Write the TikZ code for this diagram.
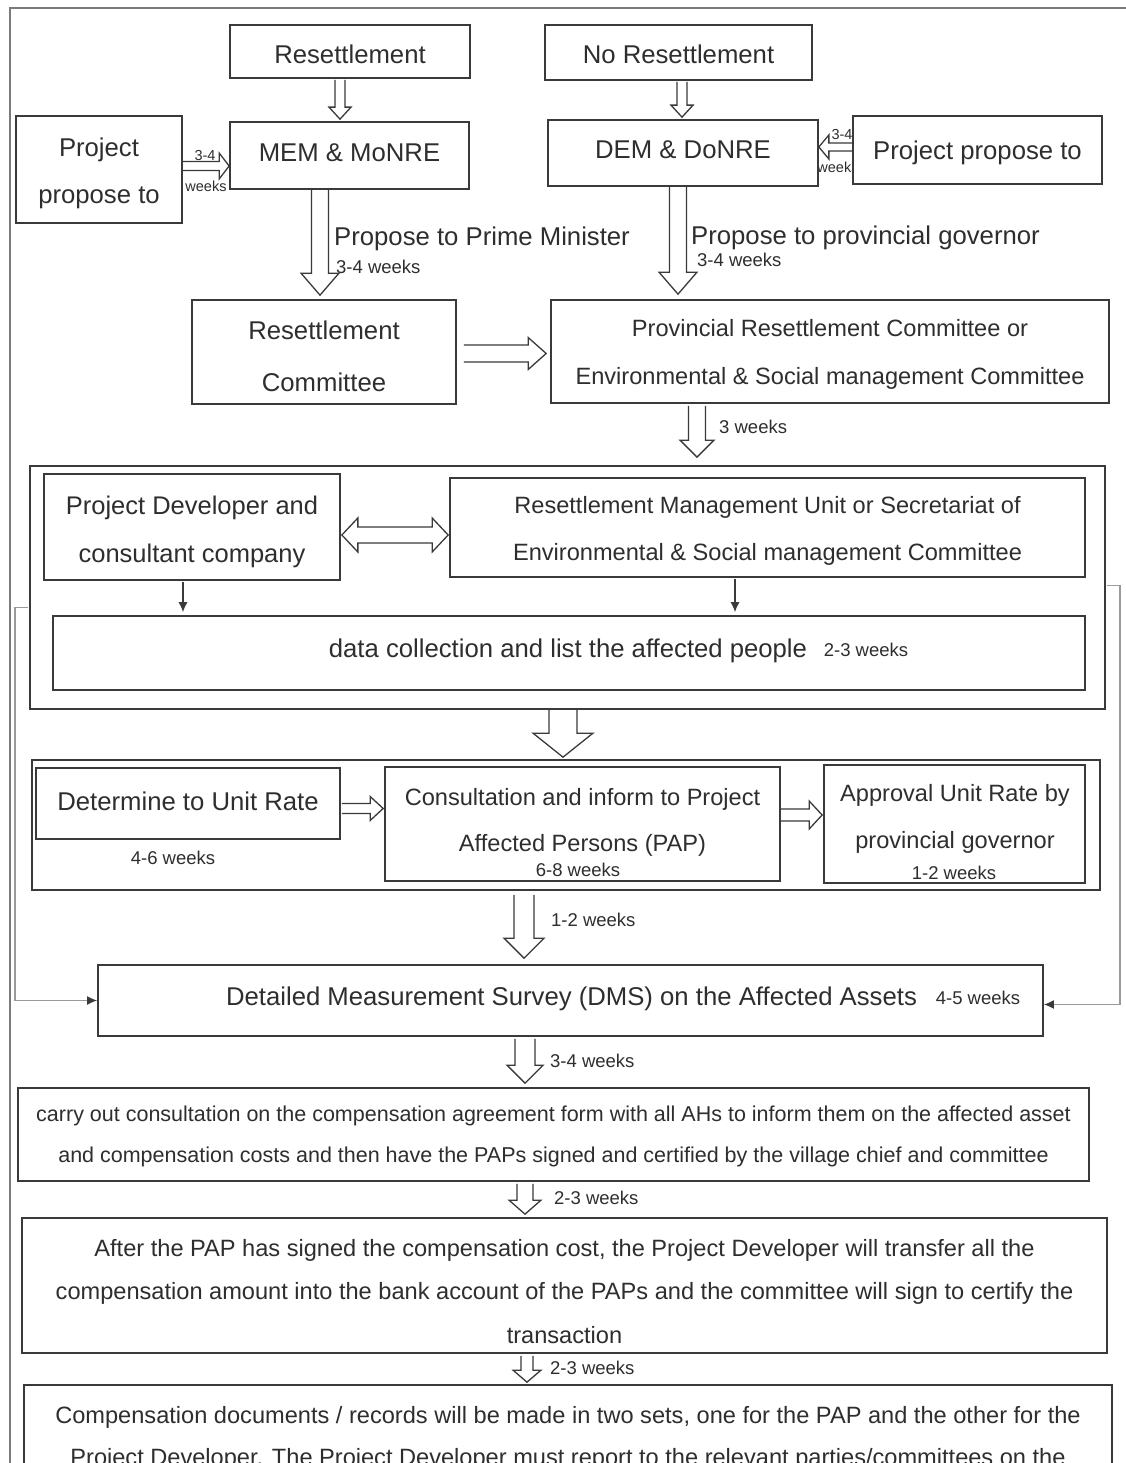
\documentclass[tikz,border=0pt]{standalone}
\usepackage{fontspec}
\setmainfont{Liberation Sans}
\usetikzlibrary{calc,arrows.meta}
\definecolor{lc}{HTML}{3A3A3A}
\definecolor{tc}{HTML}{2E2E2E}
\definecolor{fbc}{HTML}{9A9A9A}
\newcommand\fbig{\fontsize{25.7}{30}\selectfont}
\newcommand\fmid{\fontsize{23.6}{28}\selectfont}
\newcommand\fsml{\fontsize{21.5}{26}\selectfont}
\newcommand\fwk{\fontsize{18.5}{20}\selectfont}
\newcommand\ftiny{\fontsize{14.5}{16}\selectfont}
\newcommand\vblk[5]{\draw[blk] let \p1=(#1), \p2=(#2) in (\x1-#3pt,\y1) -- (\x1-#3pt,\y2+#5pt) -- (\x1-#4pt,\y2+#5pt) -- (\x1,\y2) -- (\x1+#4pt,\y2+#5pt) -- (\x1+#3pt,\y2+#5pt) -- (\x1+#3pt,\y1);}
\newcommand\hblkR[5]{\draw[blk] let \p1=(#1), \p2=(#2) in (\x1,\y1+#3pt) -- (\x2-#5pt,\y1+#3pt) -- (\x2-#5pt,\y1+#4pt) -- (\x2,\y1) -- (\x2-#5pt,\y1-#4pt) -- (\x2-#5pt,\y1-#3pt) -- (\x1,\y1-#3pt);}
\newcommand\hblkL[5]{\draw[blk] let \p1=(#1), \p2=(#2) in (\x1,\y1+#3pt) -- (\x2+#5pt,\y1+#3pt) -- (\x2+#5pt,\y1+#4pt) -- (\x2,\y1) -- (\x2+#5pt,\y1-#4pt) -- (\x2+#5pt,\y1-#3pt) -- (\x1,\y1-#3pt);}
\newcommand\hblkD[5]{\draw[blk] let \p1=(#1), \p2=(#2) in (\x1,\y1) -- (\x1+#5pt,\y1+#4pt) -- (\x1+#5pt,\y1+#3pt) -- (\x2-#5pt,\y1+#3pt) -- (\x2-#5pt,\y1+#4pt) -- (\x2,\y1) -- (\x2-#5pt,\y1-#4pt) -- (\x2-#5pt,\y1-#3pt) -- (\x1+#5pt,\y1-#3pt) -- (\x1+#5pt,\y1-#4pt) -- cycle;}
\begin{document}
\begin{tikzpicture}[x=1pt,y=-1pt,
  box/.style={draw=lc, line width=1.7pt, fill=white, inner sep=0pt},
  grp/.style={draw=lc, line width=1.7pt, inner sep=0pt},
  blk/.style={draw=lc, line width=1.3pt, line join=miter},
  lbl/.style={text=tc, inner sep=0pt, text depth=0pt, font=\fbig},
  mid/.style={lbl, font=\fmid},
  sml/.style={lbl, font=\fsml},
  wk/.style={lbl, font=\fwk},
  tiny/.style={lbl, font=\ftiny},
  thin/.style={draw=lc, line width=1.2pt, -{Latex[length=10pt,width=9pt]}},
  fb/.style={draw=fbc, line width=1.5pt},
  fbtip/.style={-{Latex[length=10pt,width=9pt,color=lc]}}]
\useasboundingbox (0,0) rectangle (1126,1463);
\clip (0,0) rectangle (1126,1463);
\fill[white] (0,0) rectangle (1126,1463);
\draw[draw=fbc!80!black, line width=2pt] (10,1470) -- (10,8) -- (1130,8);

% top row
\node[box, minimum width=240, minimum height=53] (res) at (350,51.5) {};
\node[lbl] (rest) at (350,54) {Resettlement};
\node[box, minimum width=267, minimum height=55] (nores) at (678.5,52.5) {};
\node[lbl] (norest) at (678.5,54) {No Resettlement};
\node[tiny] (l34a) at (205,155) {3-4};
\node[tiny] (lwka) at (206,186) {weeks};
\node[tiny] (l34b) at (842,134) {3-4};
\node[tiny] (lwkb) at (838,167) {weeks};
\node[box, minimum width=166, minimum height=107] (ppl) at (99,169.5) {};
\node[lbl] (pplt1) at (99,147) {Project};
\node[lbl] (pplt2) at (99,195) {propose to};
\node[box, minimum width=239, minimum height=67] (mem) at (349.5,155.5) {};
\node[lbl] (memt) at (349.5,153) {MEM \& MoNRE};
\node[box, minimum width=270, minimum height=66] (dem) at (683,153) {};
\node[lbl] (demt) at (683,150) {DEM \& DoNRE};
\node[box, minimum width=249, minimum height=68] (ppr) at (977.5,150) {};
\node[lbl] (pprt) at (977.5,150) {Project propose to};

% committees
\node[box, minimum width=264, minimum height=104] (rc) at (324,352) {};
\node[lbl] (rct1) at (324,330) {Resettlement};
\node[lbl] (rct2) at (324,382) {Committee};
\node[box, minimum width=558, minimum height=103] (prc) at (830,351.5) {};
\node[mid] (prct1) at (830,328) {Provincial Resettlement Committee or};
\node[mid] (prct2) at (830,376) {Environmental \& Social management Committee};
\node[lbl, anchor=west] (ppm) at (334,236) {Propose to Prime Minister};
\node[wk, anchor=west] (w1) at (336,267) {3-4 weeks};
\node[lbl, anchor=west] (ppg) at (691,235) {Propose to provincial governor};
\node[wk, anchor=west] (w2) at (697,260) {3-4 weeks};
\node[wk, anchor=west] (w3) at (719,427) {3 weeks};

% group 1
\node[grp, minimum width=1075, minimum height=243] (g1) at (567.5,587.5) {};
\node[box, minimum width=296, minimum height=106] (pd) at (192,527) {};
\node[lbl, font=\fontsize{25.5}{30}\selectfont] (pdt1) at (192,505) {Project Developer and};
\node[lbl, font=\fontsize{25.5}{30}\selectfont] (pdt2) at (192,553) {consultant company};
\node[box, minimum width=635, minimum height=99] (rmu) at (767.5,527.5) {};
\node[mid] (rmut1) at (767.5,505) {Resettlement Management Unit or Secretariat of};
\node[mid] (rmut2) at (767.5,552) {Environmental \& Social management Committee};
\node[box, minimum width=1032, minimum height=74] (dc) at (569,653) {};
\node[lbl] (dct) at (568,648) {data collection and list the affected people};
\node[wk] (w4) at (866,650) {2-3 weeks};

% group 2
\node[grp, minimum width=1068, minimum height=130] (g2) at (566,825) {};
\node[box, minimum width=304, minimum height=71] (dur) at (188,803.5) {};
\node[lbl] (durt) at (188,801) {Determine to Unit Rate};
\node[wk] (w5) at (173,858) {4-6 weeks};
\node[box, minimum width=395, minimum height=114] (con) at (582.5,824) {};
\node[mid] (cont1) at (582.5,797) {Consultation and inform to Project};
\node[mid] (cont2) at (582.5,843) {Affected Persons (PAP)};
\node[wk] (w6) at (578,870) {6-8 weeks};
\node[box, minimum width=261, minimum height=118] (app) at (954.5,824) {};
\node[mid] (appt1) at (955,793) {Approval Unit Rate by};
\node[mid] (appt2) at (955,840) {provincial governor};
\node[wk] (w7) at (954,873) {1-2 weeks};

% DMS
\node[box, minimum width=945, minimum height=71] (dms) at (570.5,1000.5) {};
\node[lbl] (dmst) at (571.5,996) {Detailed Measurement Survey (DMS) on the Affected Assets};
\node[wk] (w8) at (978,998) {4-5 weeks};
\node[wk, anchor=west] (w9) at (551,920) {1-2 weeks};

% lower boxes
\node[box, minimum width=1071, minimum height=93] (carry) at (553.5,1134.5) {};
\node[sml] (carryt1) at (553.5,1114) {carry out consultation on the compensation agreement form with all AHs to inform them on the affected asset};
\node[sml] (carryt2) at (553.5,1155) {and compensation costs and then have the PAPs signed and certified by the village chief and committee};
\node[wk, anchor=west] (w10) at (550,1061) {3-4 weeks};
\node[box, minimum width=1085, minimum height=135] (after) at (564.5,1285.5) {};
\node[mid] (aftert1) at (564.5,1248) {After the PAP has signed the compensation cost, the Project Developer will transfer all the};
\node[mid] (aftert2) at (564.5,1291) {compensation amount into the bank account of the PAPs and the committee will sign to certify the};
\node[mid] (aftert3) at (564.5,1335) {transaction};
\node[wk, anchor=west] (w11) at (554,1198) {2-3 weeks};
\node[box, minimum width=1088, minimum height=200] (comp) at (568,1485) {};
\node[mid] (compt1) at (568,1415) {Compensation documents / records will be made in two sets, one for the PAP and the other for the};
\node[mid] (compt2) at (568,1457) {Project Developer. The Project Developer must report to the relevant parties/committees on the};
\node[wk, anchor=west] (w12) at (550,1368) {2-3 weeks};

% block arrows
\vblk{$(res.south)+(-10,1)$}{$(mem.north)+(0,-2)$}{5}{11}{12}
\vblk{$(nores.south)+(3.5,1)$}{$(dem.north)+(0,-2)$}{5}{11}{12}
\hblkR{$(ppl.east)+(0,-3.5)$}{mem.west}{4.5}{13}{10}
\hblkL{$(ppr.west)+(0,-3)$}{dem.west -| dem.east}{4}{12}{10}
\vblk{$(mem.south)+(-29.5,0)$}{$(rc.north)+(0,-4)$}{8.5}{19}{22}
\vblk{$(dem.south)+(-5,0)$}{$(prc.north)+(0,-5)$}{8.5}{19}{22}
\hblkR{$(rc.east)+(7,1.5)$}{$(prc.west)+(-4,0)$}{8.5}{16}{18}
\vblk{$(prc.south)+(-133,2)$}{$(g1.north)+(0,-8)$}{8.5}{17}{17}
\hblkD{$(pd.east)+(1,8)$}{$(rmu.west)+(-1,0)$}{8}{17}{16}
\vblk{$(g1.south)+(-4.5,0)$}{$(g2.north)+(0,-2)$}{14}{30}{24}
\hblkR{$(dur.east)+(1,5)$}{$(con.west)+(-1,0)$}{5}{12}{13}
\hblkR{$(con.east)+(0,-9)$}{$(app.west)+(-1,0)$}{6}{14}{13}
\vblk{$(g2.south)+(-42,4)$}{$(dms.north)+(0,-6)$}{10}{20}{20}
\vblk{$(dms.south)+(-45.5,2)$}{$(carry.north)+(0,-4)$}{10}{18}{18}
\vblk{$(carry.south)+(-28.5,2)$}{$(after.north)+(0,-3)$}{8}{16}{14}
\vblk{$(after.south)+(-37.5,2)$}{$(comp.north)+(0,-2)$}{6}{14}{12}

% thin arrows
\draw[thin] ($(pd.south)+(-9,1)$) -- ($(dc.north -| pd.south)+(-9,-3)$);
\draw[thin] ($(rmu.south)+(-32.5,1)$) -- ($(dc.north -| rmu.south)+(-32.5,-3)$);

% feedback lines
\draw[fb, fbtip] ($(g1.west)+(-1,20)$) -- ($(g1.west)+(-14,20)$) |- (dms.west);
\draw[fb, fbtip] ($(g1.east)+(1,-2)$) -- ($(g1.east)+(14,-2)$) |- ($(dms.east)+(0,4)$);
\end{tikzpicture}
\end{document}
